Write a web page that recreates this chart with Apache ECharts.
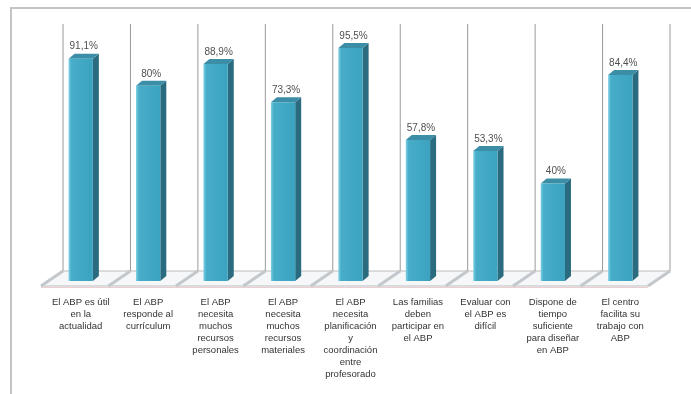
<!DOCTYPE html>
<html>
<head>
<meta charset="utf-8">
<script src="https://cdn.jsdelivr.net/npm/echarts@6/dist/echarts.min.js"></script>
<style>
html,body{margin:0;padding:0;background:#fff;}
#chart{width:691px;height:394px;}
</style>
</head>
<body>
<div id="chart"></div>
<script>
var categories = [
  "El ABP es útil\nen la\nactualidad",
  "El ABP\nresponde al\ncurrículum",
  "El ABP\nnecesita\nmuchos\nrecursos\npersonales",
  "El ABP\nnecesita\nmuchos\nrecursos\nmateriales",
  "El ABP\nnecesita\nplanificación\ny\ncoordinación\nentre\nprofesorado",
  "Las familias\ndeben\nparticipar en\nel ABP",
  "Evaluar con\nel ABP es\ndifícil",
  "Dispone de\ntiempo\nsuficiente\npara diseñar\nen ABP",
  "El centro\nfacilita su\ntrabajo con\nABP"
];
var values = [91.1, 80, 88.9, 73.3, 95.5, 57.8, 53.3, 40, 84.4];
var valueLabels = ["91,1%", "80%", "88,9%", "73,3%", "95,5%", "57,8%", "53,3%", "40%", "84,4%"];

var BACK_DX = 16, BACK_DY = -10;   // back wall offset from bar front plane
var FLOOR_DX = -6, FLOOR_DY = 5;   // floor front edge offset
var BAR_DX = 6, BAR_DY = -5;       // bar depth

var chart = echarts.init(document.getElementById('chart'));

function wallsRender(params, api) {
  var i = api.value(0);
  var band = api.size([1, 0])[0];
  var c0 = api.coord([i, 0]);
  var c100 = api.coord([i, 100]);
  var xl = c0[0] - band / 2;
  var children = [];
  var n = categories.length;
  if (i === 0) {
    var first = api.coord([0, 0]);
    var last = api.coord([n - 1, 0]);
    var L = first[0] - band / 2, R = last[0] + band / 2, y0 = first[1];
    children.push({
      type: 'polygon',
      shape: { points: [
        [L + BACK_DX, y0 + BACK_DY], [R + BACK_DX, y0 + BACK_DY],
        [R + FLOOR_DX, y0 + FLOOR_DY], [L + FLOOR_DX, y0 + FLOOR_DY]
      ]},
      style: { fill: '#f5f7f9', stroke: '#bcbcbc', lineWidth: 1 }
    });
    children.push({
      type: 'line',
      shape: { x1: L + FLOOR_DX, y1: y0 + FLOOR_DY + 1.5, x2: R + FLOOR_DX, y2: y0 + FLOOR_DY + 1.5 },
      style: { stroke: '#ebcfd2', lineWidth: 1 }
    });
  }
  var xs = [xl];
  if (i === n - 1) xs.push(xl + band);
  xs.forEach(function (x) {
    children.push({
      type: 'line',
      shape: { x1: x + BACK_DX, y1: c0[1] + BACK_DY, x2: x + BACK_DX, y2: c100[1] + BACK_DY - 3 },
      style: { stroke: '#9a9a9a', lineWidth: 1 }
    });
    children.push({
      type: 'line',
      shape: { x1: x + BACK_DX, y1: c0[1] + BACK_DY, x2: x + FLOOR_DX, y2: c0[1] + FLOOR_DY },
      style: { stroke: '#c3c8cd', lineWidth: 3 }
    });
  });
  return { type: 'group', children: children };
}

function barRender(params, api) {
  var i = api.value(0);
  var v = api.value(1);
  var band = api.size([1, 0])[0];
  var top = api.coord([i, v]);
  var bot = api.coord([i, 0]);
  var w = band * 0.36;
  var x = top[0] - w / 2;
  var yT = top[1], yB = bot[1];
  return {
    type: 'group',
    children: [
      {
        type: 'polygon',
        shape: { points: [[x + w, yT], [x + w + BAR_DX, yT + BAR_DY], [x + w + BAR_DX, yB + BAR_DY], [x + w, yB]] },
        style: { fill: '#2a6b7f' }
      },
      {
        type: 'polygon',
        shape: { points: [[x, yT], [x + BAR_DX, yT + BAR_DY], [x + w + BAR_DX, yT + BAR_DY], [x + w, yT]] },
        style: { fill: '#3b8ea6' }
      },
      {
        type: 'rect',
        shape: { x: x, y: yT, width: w, height: yB - yT },
        style: {
          fill: new echarts.graphic.LinearGradient(0, 0, 1, 0, [
            { offset: 0, color: '#7fd0e4' },
            { offset: 0.12, color: '#47adc9' },
            { offset: 1, color: '#3ba2bf' }
          ])
        }
      },
      {
        type: 'text',
        style: {
          x: x + w / 2 + 3, y: yT - 7,
          text: valueLabels[i],
          align: 'center', verticalAlign: 'bottom',
          fontSize: 10, fontFamily: 'Liberation Sans, Arial, sans-serif', fill: '#505050'
        }
      }
    ]
  };
}

var option = {
  animation: false,
  backgroundColor: '#ffffff',
  graphic: [{
    type: 'rect',
    shape: { x: 11, y: 8, width: 690, height: 400 },
    style: { fill: 'none', stroke: '#c4c4c4', lineWidth: 2 },
    z: 0
  }],
  grid: { left: 47, right: 37, top: 37, bottom: 113 },
  xAxis: {
    type: 'category',
    data: categories,
    axisLine: { show: false },
    axisTick: { show: false },
    splitLine: { show: false },
    axisLabel: {
      interval: 0, margin: 15,
      fontSize: 9.5, lineHeight: 12,
      color: '#333333',
      fontFamily: 'Liberation Sans, Arial, sans-serif'
    }
  },
  yAxis: {
    type: 'value', min: 0, max: 100,
    show: false, splitLine: { show: false }
  },
  series: [
    {
      type: 'custom',
      renderItem: wallsRender,
      data: categories.map(function (c, i) { return [i]; }),
      z: 1, silent: true
    },
    {
      type: 'custom',
      renderItem: barRender,
      data: values.map(function (v, i) { return [i, v]; }),
      z: 2
    }
  ]
};
chart.setOption(option);
</script>
</body>
</html>
